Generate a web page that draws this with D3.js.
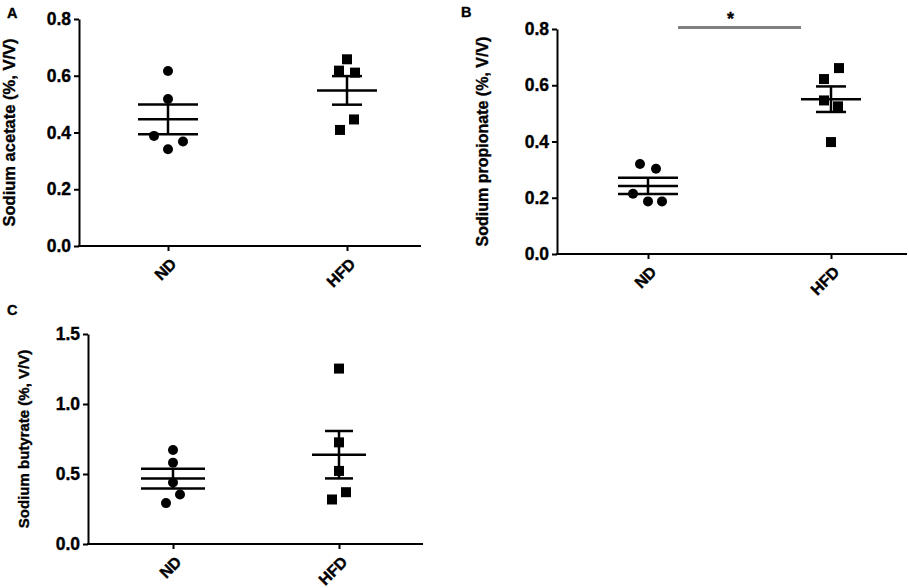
<!DOCTYPE html>
<html lang="en">
<head>
    <meta charset="utf-8">
    <title>SCFA ND vs HFD</title>
    <script src="https://cdn.jsdelivr.net/npm/d3@7/dist/d3.min.js"></script>
</head>
<style>
    body { margin: 0; background: #fff; }
    svg text { font-family: Arial, "Liberation Sans", sans-serif; font-weight: bold; fill: #000;
               stroke: #000; stroke-width: 0.35px; }
</style>
<body>
    <script type="text/javascript">
        // values (5 animals per group)
        var groups = ["ND", "HFD"];
        var acetateND = [0.617, 0.518, 0.388, 0.341, 0.368];
        var acetateHFD = [0.658, 0.618, 0.611, 0.446, 0.409];
        var propionateND = [0.320, 0.303, 0.214, 0.187, 0.187];
        var propionateHFD = [0.661, 0.622, 0.546, 0.525, 0.398];
        var butyrateND = [0.672, 0.581, 0.439, 0.353, 0.292];
        var butyrateHFD = [1.253, 0.726, 0.522, 0.370, 0.318];
        var ticksAB = [0, 0.2, 0.4, 0.6, 0.8];
        var ticksC = [0, 0.5, 1.0, 1.5];

        // horizontal scatter offsets of the dots (px)
        var jitterA = [[0, 0, -14, 0, 15], [0, -8, 8, 7, -7]];
        var jitterB = [[-8, 8, -15, 0, 14], [8, -7, -7, 7, 0]];
        var jitterC = [[0, 0, 0, 7, -7], [0, 0, 0, 7, -7]];

        var width = 909;
        var height = 588;
        var svg = d3.select("body").append("svg")
            .attr("width", width)
            .attr("height", height);

        var panels = [
            { letter: "A", lx: 7, ly: 18, title: "Sodium acetate (%, V/V)", tsize: 16.5, tx: 15,
              data: [acetateND, acetateHFD], jitter: jitterA, ticks: ticksAB, ymax: 0.8,
              x0: 79, x1: 421, y0: 246, y1: 19, cx: [168, 347],
              meanW: [30, 30], capW: [30, 15] },
            { letter: "B", lx: 461, ly: 17, title: "Sodium propionate (%, V/V)", tsize: 16, tx: 488,
              data: [propionateND, propionateHFD], jitter: jitterB, ticks: ticksAB, ymax: 0.8,
              x0: 557, x1: 907, y0: 254, y1: 29, cx: [648, 831],
              meanW: [30, 30], capW: [30, 15], sig: true },
            { letter: "C", lx: 7, ly: 315, title: "Sodium butyrate (%, V/V)", tsize: 15, tx: 29,
              data: [butyrateND, butyrateHFD], jitter: jitterC, ticks: ticksC, ymax: 1.5,
              x0: 88, x1: 423, y0: 544, y1: 334, cx: [173, 339],
              meanW: [32, 27], capW: [32, 14] }
        ];

        panels.forEach(function (p) {
            var g = svg.append("g");
            var y = d3.scaleLinear().domain([0, p.ymax]).range([p.y0, p.y1]);
            var x = d3.scalePoint().domain(groups).range(p.cx);

            // y axis
            var yAxis = g.append("g")
                .attr("transform", `translate(${p.x0},0)`)
                .call(d3.axisLeft(y).tickValues(p.ticks).tickFormat(d3.format(".1f"))
                    .tickSize(5).tickSizeOuter(0).tickPadding(3));
            yAxis.select(".domain").attr("stroke-width", 2);
            yAxis.selectAll(".tick line").attr("stroke-width", 2);
            yAxis.selectAll(".tick text").attr("font-size", 17.5);

            // x axis
            var xAxis = g.append("g")
                .attr("transform", `translate(0,${p.y0})`)
                .call(d3.axisBottom(x).tickSize(5).tickSizeOuter(0));
            xAxis.select(".domain").remove();
            xAxis.selectAll(".tick line").attr("stroke-width", 2);
            xAxis.selectAll(".tick text")
                .attr("font-size", 16)
                .attr("text-anchor", "end")
                .attr("dy", "0.35em")
                .attr("y", 0)
                .attr("transform", "translate(5,15) rotate(-45)");
            g.append("line")
                .attr("x1", p.x0 - 1).attr("x2", p.x1)
                .attr("y1", p.y0).attr("y2", p.y0)
                .attr("stroke", "black").attr("stroke-width", 2);

            // axis title
            g.append("text")
                .attr("transform", `translate(${p.tx},${(p.y0 + p.y1) / 2}) rotate(-90)`)
                .attr("text-anchor", "middle")
                .attr("font-size", p.tsize)
                .text(p.title);

            // panel letter
            g.append("text")
                .attr("x", p.lx).attr("y", p.ly)
                .attr("font-size", 14.5)
                .text(p.letter);

            p.data.forEach(function (vals, gi) {
                var cx = x(groups[gi]);
                var m = d3.mean(vals);
                var sem = d3.deviation(vals) / Math.sqrt(vals.length);
                var pts = vals.map(function (v, i) { return { v: v, dx: p.jitter[gi][i] }; });

                if (gi == 0) {
                    g.selectAll(null)
                        .data(pts)
                        .join("circle")
                        .attr("cx", d => cx + d.dx)
                        .attr("cy", d => y(d.v))
                        .attr("r", 5)
                        .attr("fill", "black");
                } else {
                    g.selectAll(null)
                        .data(pts)
                        .join("rect")
                        .attr("x", d => cx + d.dx - 5)
                        .attr("y", d => y(d.v) - 5)
                        .attr("width", 10)
                        .attr("height", 10)
                        .attr("fill", "black");
                }

                // mean and SEM
                var err = g.append("g")
                    .attr("stroke", "black")
                    .attr("stroke-width", 2.5);
                err.append("line")
                    .attr("x1", cx - p.meanW[gi]).attr("x2", cx + p.meanW[gi])
                    .attr("y1", y(m)).attr("y2", y(m));
                [m - sem, m + sem].forEach(function (v) {
                    err.append("line")
                        .attr("x1", cx - p.capW[gi]).attr("x2", cx + p.capW[gi])
                        .attr("y1", y(v)).attr("y2", y(v));
                });
                err.append("line")
                    .attr("x1", cx).attr("x2", cx)
                    .attr("y1", y(m - sem)).attr("y2", y(m + sem));
            });

            if (p.sig) {
                var sx1 = x(groups[0]) + p.meanW[0];
                var sx2 = x(groups[1]) - p.meanW[1];
                g.append("line")
                    .attr("x1", sx1).attr("x2", sx2)
                    .attr("y1", y(0.805)).attr("y2", y(0.805))
                    .attr("stroke", "#808080")
                    .attr("stroke-width", 3);
                g.append("text")
                    .attr("x", (sx1 + sx2) / 2 - 9)
                    .attr("y", y(0.805) - 3)
                    .attr("font-size", 18)
                    .attr("text-anchor", "middle")
                    .text("*");
            }
        });
    </script>
</body>
</html>
